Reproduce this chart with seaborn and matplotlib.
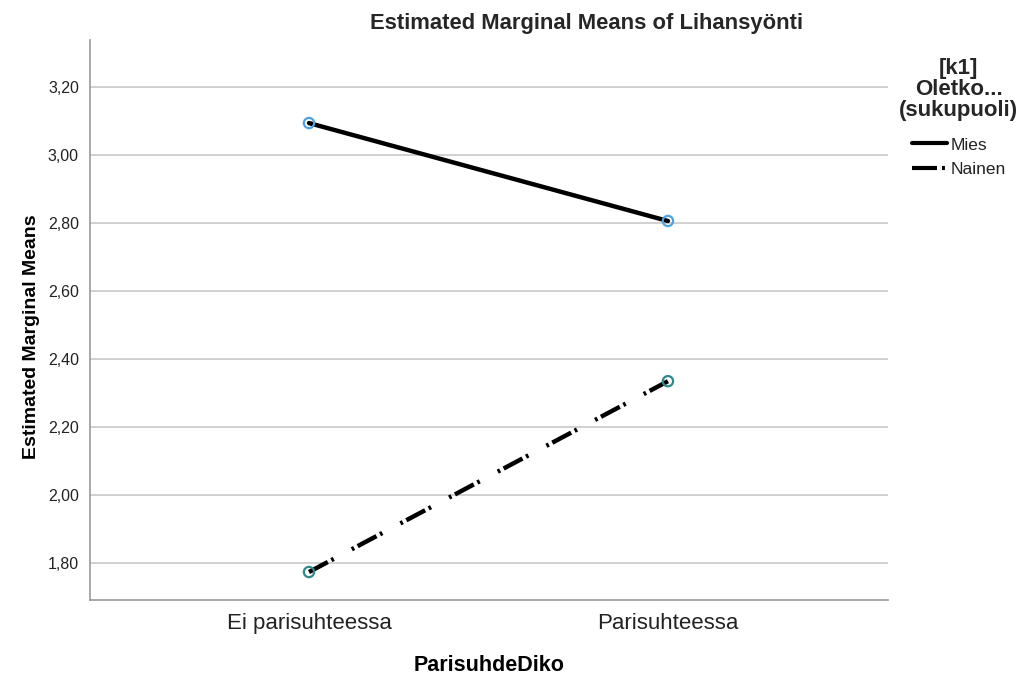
import numpy as np
import pandas as pd
import matplotlib
matplotlib.use("Agg")
import matplotlib.pyplot as plt
import seaborn as sns
from matplotlib.lines import Line2D

# data
categories = ["Ei parisuhteessa", "Parisuhteessa"]
groups = ["Mies", "Nainen"]
mies = [3.094, 2.806]
nainen = [1.774, 2.335]
y_ticks = [1.80, 2.00, 2.20, 2.40, 2.60, 2.80, 3.00, 3.20]

df = pd.DataFrame({
    "x": [0, 1, 0, 1],
    "kategoria": categories * 2,
    "ryhma": ["Mies", "Mies", "Nainen", "Nainen"],
    "emm": mies + nainen,
})

sns.set_style("white")
plt.rcParams['font.family'] = ['Arial', 'Liberation Sans', 'DejaVu Sans']

fig = plt.figure(figsize=(10.23, 6.79), dpi=100)
ax = fig.add_axes([0.088, 0.116, 0.78, 0.825])

# gridlines
for t in y_ticks:
    ax.axhline(t, color="#c8c8c8", lw=1.2, zorder=0)

sns.lineplot(data=df, x="x", y="emm", style="ryhma", color="black",
             dashes={"Mies": "", "Nainen": (4.8, 0.9, 0.6, 4.6, 0.6, 0.9)},
             lw=3.2, legend=False, ax=ax, zorder=2)
sns.scatterplot(data=df, x="x", y="emm", hue="ryhma",
                palette={"Mies": "#4da3e0", "Nainen": "#2e8a8c"},
                s=55, linewidth=1.6, legend=False, ax=ax, zorder=3)
for coll in ax.collections:
    ec = coll.get_facecolors()
    coll.set_edgecolors(ec)
    coll.set_facecolors("none")

ax.set_xlim(-0.61, 1.613)
ax.set_ylim(1.691, 3.338)
ax.set_xticks([0, 1])
ax.set_xticklabels(categories, fontsize=16, color="#222222")
ax.set_yticks(y_ticks)
ax.set_yticklabels([f"{v:.2f}".replace(".", ",") for v in y_ticks],
                   fontsize=11.5, color="#222222")
ax.tick_params(axis="y", length=0, pad=8)
ax.tick_params(axis="x", length=0, pad=9)
for s in ["top", "right"]:
    ax.spines[s].set_visible(False)
for s in ["left", "bottom"]:
    ax.spines[s].set_color("#999999")
    ax.spines[s].set_linewidth(1.2)

ax.set_xlabel("ParisuhdeDiko", fontsize=15.5, fontweight="bold", labelpad=15,
              color="black")
ax.set_ylabel("Estimated Marginal Means", fontsize=14, fontweight="bold",
              labelpad=8, color="black")
ax.yaxis.set_label_coords(-0.088 + 20 / 798, 0.47)

fig.text(587 / 1023, 1 - 24 / 679, "Estimated Marginal Means of Lihansyönti",
         ha="center", va="center", fontsize=15.8, fontweight="bold")

handles = [
    Line2D([0], [0], color="black", lw=3),
    Line2D([0], [0], color="black", lw=3, dashes=(6, 1.2, 0.7, 1.2)),
]
leg = fig.legend(handles, groups, loc="upper left",
                 bbox_to_anchor=(887 / 1023, 1 - 46 / 679),
                 title="[k1]\nOletko...\n(sukupuoli)", frameon=False,
                 fontsize=12.5, handlelength=2.0, handletextpad=0.2,
                 labelspacing=0.54, borderpad=0.2,
                 title_fontproperties={"weight": "bold", "size": 16})
leg._legend_box.align = "center"
leg._legend_box.sep = 11.7
leg.get_title().set_multialignment("center")
leg.get_title().set_linespacing(1.0)
for t in leg.get_texts():
    t.set_color("#222222")

fig.savefig("out.png", dpi=100)
